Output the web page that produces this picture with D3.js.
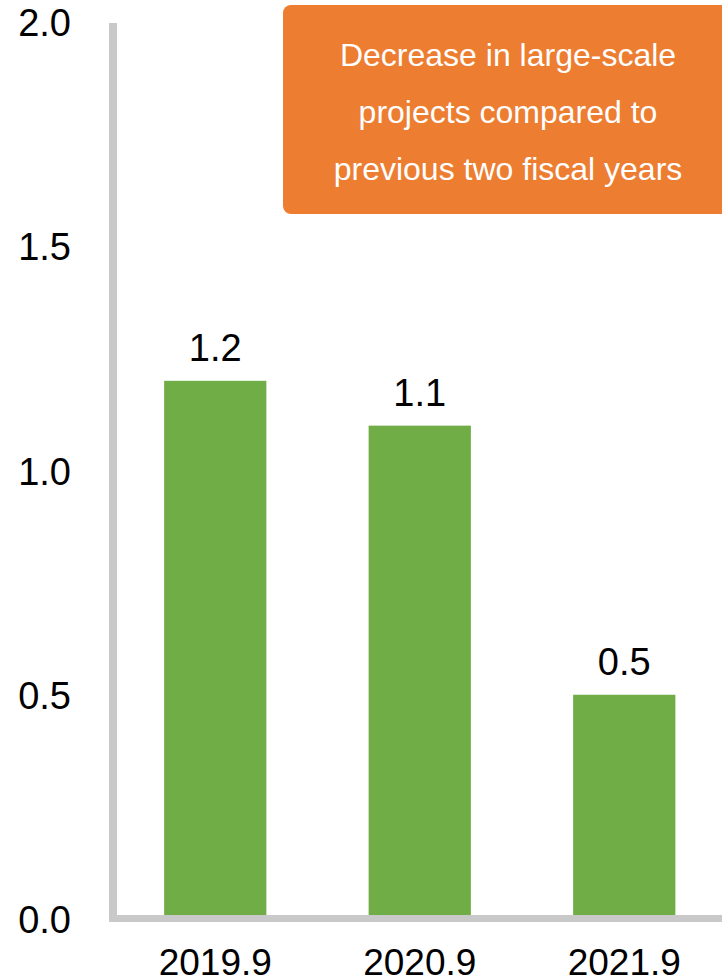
<!DOCTYPE html>
<html>
<head>
<meta charset="utf-8">
<script src="https://cdn.jsdelivr.net/npm/d3@7/dist/d3.min.js"></script>
<style>
  html, body { margin: 0; padding: 0; background: #fff; }
  svg { display: block; font-family: "Liberation Sans", Arial, sans-serif; }
</style>
</head>
<body>
<svg id="chart" width="722" height="979"></svg>
<script>
// Fiscal periods and values
const categories = ["2019.9", "2020.9", "2021.9"];
const values = [1.2, 1.1, 0.5];
const yTicks = [0, 0.5, 1.0, 1.5, 2.0];
const noteLines = ["Decrease in large-scale", "projects compared to", "previous two fiscal years"];

const svg = d3.select("#chart");
const W = 722, H = 979;

const x = d3.scaleBand()
  .domain(categories)
  .range([113, 726.5])
  .paddingInner(0.5)
  .paddingOuter(0.25);

const y = d3.scaleLinear()
  .domain([0, 2])
  .range([919, 22]);

// Bars
svg.append("g").selectAll("rect")
  .data(values)
  .join("rect")
  .attr("x", (d, i) => x(categories[i]))
  .attr("width", x.bandwidth())
  .attr("y", d => y(d))
  .attr("height", d => y(0) - y(d))
  .attr("fill", "#70AD47");

// Value labels
svg.append("g").selectAll("text")
  .data(values)
  .join("text")
  .attr("x", (d, i) => x(categories[i]) + x.bandwidth() / 2)
  .attr("y", d => y(d) - 20)
  .attr("text-anchor", "middle")
  .attr("font-size", 38)
  .attr("fill", "#000")
  .text(d => d.toFixed(1));

// Axis lines
const axisColor = "#C9C9C9";
svg.append("line")
  .attr("x1", 113).attr("x2", 113)
  .attr("y1", y(2) + 1).attr("y2", y(0) + 3)
  .attr("stroke", axisColor).attr("stroke-width", 8);
svg.append("line")
  .attr("x1", 113).attr("x2", W)
  .attr("y1", y(0) - 0.5).attr("y2", y(0) - 0.5)
  .attr("stroke", axisColor).attr("stroke-width", 7);

// Y tick labels
const yAxis = d3.axisLeft(y)
  .tickValues(yTicks)
  .tickFormat(d3.format(".1f"))
  .tickSize(0)
  .tickPadding(0);
const gy = svg.append("g").attr("transform", "translate(71,0)").call(yAxis);
gy.select(".domain").remove();
gy.selectAll("text")
  .attr("font-size", 38)
  .attr("font-family", "Liberation Sans, Arial, sans-serif")
  .attr("fill", "#000")
  .attr("dy", "0.36em");

// X tick labels
const xAxis = d3.axisBottom(x).tickSize(0).tickPadding(0);
const gx = svg.append("g").attr("transform", "translate(0,975)").call(xAxis);
gx.select(".domain").remove();
gx.selectAll("text")
  .attr("font-size", 37)
  .attr("font-family", "Liberation Sans, Arial, sans-serif")
  .attr("fill", "#000")
  .attr("dy", 0);

// Callout box
const note = svg.append("g");
note.append("rect")
  .attr("x", 283).attr("y", 5)
  .attr("width", 460).attr("height", 209)
  .attr("rx", 8).attr("ry", 8)
  .attr("fill", "#ED7D31");
note.selectAll("text")
  .data(noteLines)
  .join("text")
  .attr("x", 508)
  .attr("y", (d, i) => 66 + i * 57)
  .attr("text-anchor", "middle")
  .attr("font-size", 32)
  .attr("fill", "#fff")
  .text(d => d);
</script>
</body>
</html>
